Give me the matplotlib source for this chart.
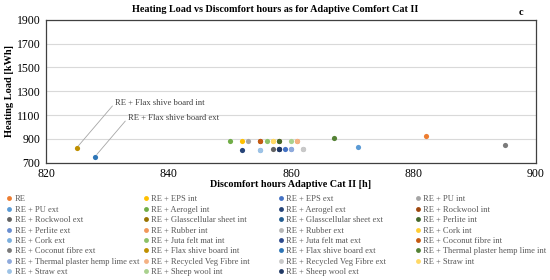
import matplotlib
matplotlib.use("Agg")
import matplotlib.pyplot as plt
from matplotlib.lines import Line2D

plt.rcParams['font.family'] = ['Liberation Serif', 'DejaVu Serif']

# series in Excel order (legend is filled row by row)
names = ['RE', 'RE + EPS int', 'RE + EPS ext', 'RE + PU int', 'RE + PU ext',
         'RE + Aerogel int', 'RE + Aerogel ext', 'RE + Rockwool int', 'RE + Rockwool ext',
         'RE + Glasscellular sheet int', 'RE + Glasscellular sheet ext',
         'RE + Perlite int', 'RE + Perlite ext', 'RE + Rubber int', 'RE + Rubber ext',
         'RE + Cork int', 'RE + Cork ext', 'RE + Juta felt mat int', 'RE + Juta felt mat ext',
         'RE + Coconut fibre int', 'RE + Coconut fibre ext',
         'RE + Flax shive board int', 'RE + Flax shive board ext',
         'RE + Thermal plaster hemp lime int', 'RE + Thermal plaster hemp lime ext',
         'RE + Recycled Veg Fibre int', 'RE + Recycled Veg Fibre ext',
         'RE + Straw int', 'RE + Straw ext', 'RE + Sheep wool int', 'RE + Sheep wool ext']

discomfort = [882, 852, 859, 853, 871,
              850, 852, 855, 857,
              858, 858,
              858, 860, 861, 862,
              857, 855, 856, 858,
              855, 895,
              825, 828,
              867, 860,
              861, 862,
              857, 855, 860, 858]

heating = [925, 878, 812, 882, 835,
           880, 808, 882, 812,
           884, 812,
           884, 814, 886, 812,
           884, 810, 882, 812,
           882, 849,
           824, 751,
           911, 814,
           886, 812,
           884, 810, 884, 812]

colors = ['#ED7D31', '#FFC000', '#4472C4', '#A5A5A5', '#5B9BD5',
          '#70AD47', '#264478', '#9E480E', '#636363',
          '#997300', '#255E91',
          '#43682B', '#698ED0', '#F1975A', '#B7B7B7',
          '#FFCD33', '#7CAFDD', '#8CC168', '#2E4B8C',
          '#C55A11', '#7B7B7B',
          '#BF9000', '#2E75B6',
          '#548235', '#8FAADC',
          '#F4B183', '#C9C9C9',
          '#FFD966', '#9DC3E6', '#A9D18E', '#203864']

fig = plt.figure(figsize=(5.5, 2.8), dpi=100)
ax = fig.add_axes([0.0836, 0.419, 0.891, 0.510])

for n, x, y, c in zip(names, discomfort, heating, colors):
    ax.scatter(x, y, s=14, color=c, zorder=3, linewidths=0)

ax.set_xlim(820, 900)
ax.set_ylim(700, 1900)
ax.set_xticks([820, 840, 860, 880, 900])
ax.set_yticks(range(700, 1901, 200))
ax.grid(axis='y', color='#D9D9D9', lw=0.8)
ax.set_axisbelow(True)
ax.tick_params(length=0, labelsize=8.5)
ax.tick_params(axis='x', pad=4)
ax.tick_params(axis='y', pad=4)
for sp in ax.spines.values():
    sp.set_color('#404040')
    sp.set_linewidth(0.9)

fig.text(0.5, 0.965, 'Heating Load vs Discomfort hours as for Adaptive Comfort Cat II',
         fontsize=7.3, fontweight='bold', ha='center', va='center')
fig.text(0.947, 0.955, 'c', fontsize=7.5, fontweight='bold', ha='center', va='center')
ax.set_xlabel('Discomfort hours Adaptive Cat II [h]', fontsize=7.3, fontweight='bold', labelpad=0)
ax.set_ylabel('Heating Load [kWh]', fontsize=7.5, fontweight='bold', labelpad=2)

# leader labels
i_int = names.index('RE + Flax shive board int')
i_ext = names.index('RE + Flax shive board ext')
ax.annotate(names[i_int], xy=(discomfort[i_int], heating[i_int]), xytext=(831.3, 1204),
            fontsize=6.2, color='#404040', va='center', ha='left',
            arrowprops=dict(arrowstyle='-', color='#A6A6A6', lw=0.6, relpos=(0, 0.5),
                            shrinkA=0, shrinkB=2))
ax.annotate(names[i_ext], xy=(discomfort[i_ext], heating[i_ext]), xytext=(833.4, 1077),
            fontsize=6.2, color='#404040', va='center', ha='left',
            arrowprops=dict(arrowstyle='-', color='#A6A6A6', lw=0.6, relpos=(0, 0.5),
                            shrinkA=0, shrinkB=2))

# legend: 4 columns filled row by row
col_x = [0.0122, 0.26, 0.506, 0.755]
for c in range(4):
    idx = [r * 4 + c for r in range(8) if r * 4 + c < len(names)]
    handles = [Line2D([], [], ls='', marker='o', ms=3.5, mew=0, color=colors[i]) for i in idx]
    fig.legend(handles, [names[i] for i in idx], loc='upper left',
               bbox_to_anchor=(col_x[c], 0.302), frameon=False, fontsize=6.1,
               labelcolor='#595959', handlelength=0.6, handletextpad=0.35,
               labelspacing=0.28, borderpad=0, borderaxespad=0)

fig.savefig('out.png', dpi=100)
